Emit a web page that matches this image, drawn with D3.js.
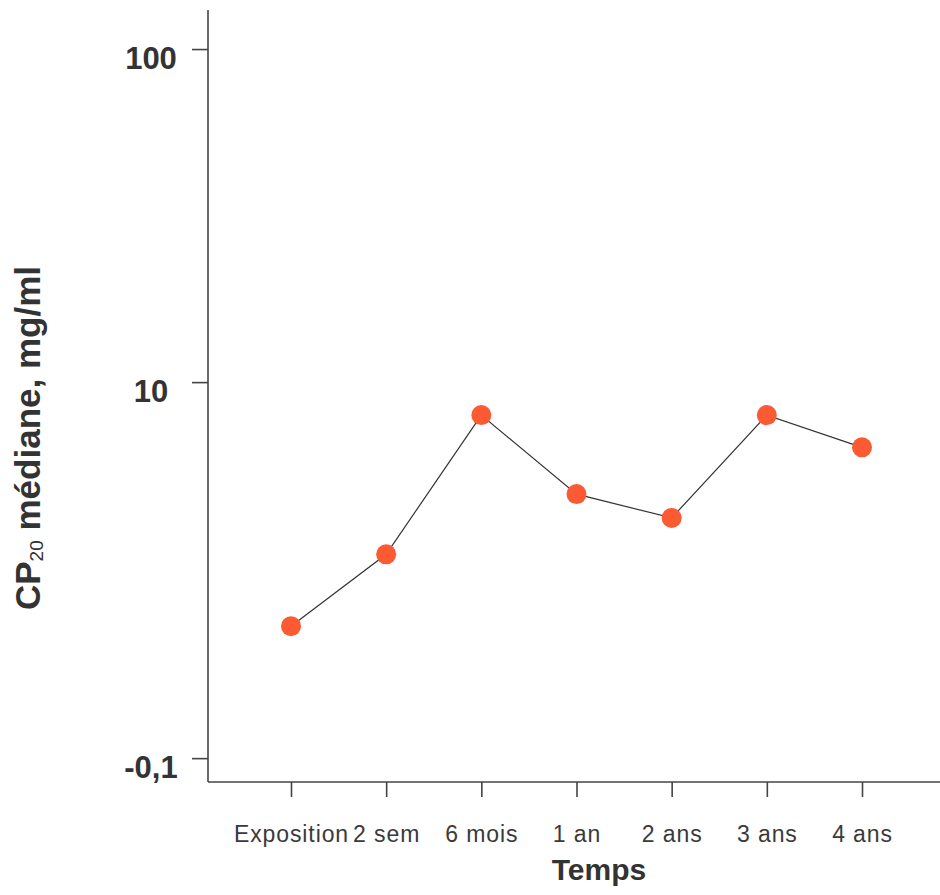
<!DOCTYPE html>
<html><head><meta charset="utf-8">
<script src="https://cdn.jsdelivr.net/npm/d3@7"></script>
<style>body{margin:0;background:#fff;} svg{display:block;font-family:"Liberation Sans",Arial,sans-serif;}</style>
</head><body>
<svg id="c" width="940" height="895"></svg>
<script>
const categories = ["Exposition","2 sem","6 mois","1 an","2 ans","3 ans","4 ans"];
const values = [1.85, 3.04, 7.96, 4.61, 3.91, 7.96, 6.37];
const yTickValues = [100, 10, 0.743];
const yTickLabels = ["100", "10", "-0,1"];
const xTitle = "Temps";

const svg = d3.select("#c");
const axisX = 208, axisY = 782;
const y = d3.scaleLog().domain([0.63, 131]).range([axisY, 10]);
const x = d3.scalePoint().domain(categories).range([291, 862]);

const ink = "#333";
// y axis
const gy = svg.append("g").attr("transform", `translate(${axisX},0)`)
  .call(d3.axisLeft(y).tickValues(yTickValues).tickSize(16).tickFormat((d,i)=>yTickLabels[i]));
gy.select(".domain").attr("d", `M0,10V${axisY}`).attr("stroke", "#444").attr("stroke-width", 1.6);
gy.selectAll(".tick line").attr("stroke", "#444").attr("stroke-width", 1.6);
gy.selectAll(".tick text").attr("x", -57).attr("text-anchor", "middle").attr("dy", "0.35em")
  .attr("transform", "translate(0,9)")
  .attr("font-size", 31).attr("font-weight", "bold").attr("fill", ink)
  .attr("font-family", "Liberation Sans, Arial, sans-serif");

// x axis
const gx = svg.append("g").attr("transform", `translate(0,${axisY})`)
  .call(d3.axisBottom(x).tickSize(15));
gx.select(".domain").attr("d", `M${axisX},0H940`).attr("stroke", "#444").attr("stroke-width", 1.6);
gx.selectAll(".tick line").attr("stroke", "#444").attr("stroke-width", 1.6);
gx.selectAll(".tick text").attr("y", 60).attr("dy", 0)
  .attr("font-size", 23).attr("letter-spacing", "0.9px").attr("fill", "#3a3a3a")
  .attr("font-family", "Liberation Sans, Arial, sans-serif");

// titles
svg.append("text").attr("x", 599).attr("y", 880).attr("text-anchor", "middle")
  .attr("font-size", 30).attr("font-weight", "bold").attr("fill", ink).text(xTitle);

const yt = svg.append("text").attr("transform", "translate(40,438) rotate(-90)")
  .attr("text-anchor", "middle").attr("font-size", 35).attr("font-weight", "bold").attr("fill", ink);
yt.append("tspan").text("CP");
yt.append("tspan").attr("font-size", 19).attr("font-weight", "normal").attr("dy", 3).text("20");
yt.append("tspan").attr("dy", -3).text(" médiane, mg/ml");

// line
const data = categories.map((c,i)=>({c, v: values[i]}));
svg.append("path").datum(data)
  .attr("d", d3.line().x(d=>x(d.c)).y(d=>y(d.v)))
  .attr("fill", "none").attr("stroke", "#333").attr("stroke-width", 1.2);
svg.selectAll("circle.pt").data(data).enter().append("circle")
  .attr("class", "pt").attr("cx", d=>x(d.c)).attr("cy", d=>y(d.v)).attr("r", 10)
  .attr("fill", "#fc5a32");
</script>
</body></html>
